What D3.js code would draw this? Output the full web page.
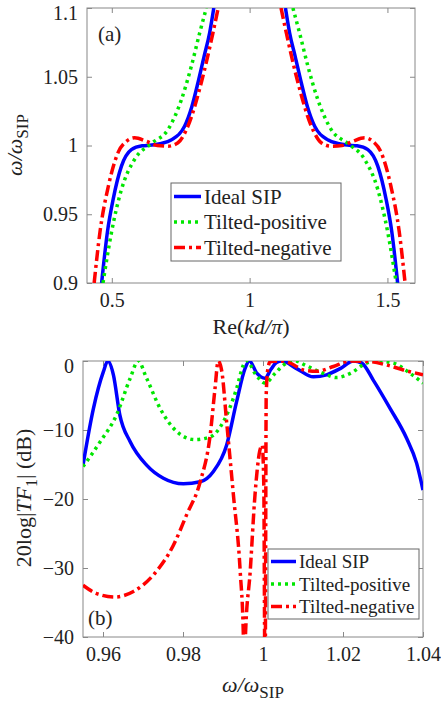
<!DOCTYPE html>
<html>
<head>
<meta charset="utf-8">
<script src="https://cdn.jsdelivr.net/npm/d3@7"></script>
<style>
  body { margin: 0; background: #fff; }
  svg { display: block; }
  svg text { font-family: "Liberation Serif", "Times New Roman", Times, "DejaVu Serif", serif !important; fill: #222; }
</style>
</head>
<body>
<script>
const width = 441;
const height = 708;

// (a) dispersion: [Re(kd/pi), omega/omega_SIP]
const idealLeft = [[0.463,0.900],[0.484,0.937],[0.505,0.961],[0.535,0.985],[0.571,0.997],[0.610,0.9998],[0.645,1.0003],[0.680,1.0015],[0.715,1.004],[0.764,1.014],[0.790,1.028],[0.813,1.046],[0.835,1.065],[0.855,1.082],[0.870,1.100]];
const idealRight = [[1.130,1.100],[1.145,1.082],[1.165,1.065],[1.187,1.046],[1.210,1.028],[1.236,1.014],[1.285,1.004],[1.320,1.0015],[1.355,1.0003],[1.390,0.9998],[1.429,0.997],[1.465,0.985],[1.495,0.961],[1.516,0.937],[1.537,0.900]];
const posLeft = [[0.468,0.900],[0.499,0.937],[0.535,0.968],[0.583,0.990],[0.644,1.0015],[0.704,1.0116],[0.752,1.033],[0.789,1.058],[0.819,1.082],[0.843,1.100]];
const posRight = [[1.157,1.100],[1.181,1.082],[1.211,1.058],[1.248,1.033],[1.296,1.0116],[1.356,1.0015],[1.417,0.990],[1.465,0.968],[1.501,0.937],[1.532,0.900]];
const negLeft = [[0.436,0.900],[0.457,0.937],[0.487,0.970],[0.523,0.995],[0.553,1.003],[0.583,1.0056],[0.626,1.003],[0.665,1.000],[0.704,0.9995],[0.740,1.002],[0.776,1.014],[0.825,1.046],[0.867,1.082],[0.886,1.100]];
const negRight = [[1.114,1.100],[1.133,1.082],[1.175,1.046],[1.224,1.014],[1.260,1.002],[1.296,0.9995],[1.335,1.000],[1.374,1.003],[1.417,1.0056],[1.447,1.003],[1.477,0.995],[1.513,0.970],[1.543,0.937],[1.564,0.900]];

// (b) transfer function: [omega/omega_SIP, dB]
const idealTF = [[0.955,-15.1],[0.9576,-6.9],[0.9601,-1.55],[0.9612,0],[0.9626,-2.0],[0.9642,-7.8],[0.9668,-11.7],[0.9709,-15.1],[0.9751,-17.0],[0.9801,-17.8],[0.9843,-17.5],[0.9876,-16.0],[0.9909,-12.2],[0.9934,-5.9],[0.9955,-1.1],[0.9966,0],[0.9985,-1.8],[1.0005,-2.5],[1.002,-1.2],[1.0034,-0.2],[1.0047,0],[1.0084,-1.1],[1.0126,-2.3],[1.0159,-2.0],[1.0193,-1.1],[1.0226,0],[1.0247,-0.3],[1.0276,-2.8],[1.0318,-6.9],[1.0359,-11.2],[1.0384,-14.8],[1.04,-18.7]];
const posTF = [[0.955,-15.3],[0.9593,-11.7],[0.9634,-7.8],[0.9668,-2.5],[0.9688,0],[0.9709,-2.5],[0.9743,-6.9],[0.9784,-10.2],[0.983,-11.4],[0.9868,-11.0],[0.9901,-8.8],[0.9934,-4.0],[0.9951,-0.6],[0.996,0],[0.998,-1.8],[1.0005,-3.2],[1.003,-1.8],[1.0051,-0.6],[1.008,0],[1.0109,-0.7],[1.0151,-1.8],[1.0184,-2.4],[1.0218,-1.8],[1.0259,-0.3],[1.0284,0],[1.0326,-0.3],[1.0368,-1.8],[1.04,-3.2]];
const negTF = [[0.955,-32.5],[0.9584,-33.7],[0.963,-34.2],[0.9676,-33.4],[0.9726,-31.0],[0.9776,-26.7],[0.9809,-22.3],[0.9843,-17.5],[0.9868,-10.7],[0.988,-4.0],[0.9888,0],[0.9897,-1.5],[0.9909,-8.8],[0.9926,-19.4],[0.9943,-30.5],[0.9951,-40],[0.9953,-50],[0.9956,-40],[0.9968,-30.5],[0.998,-19.4],[0.9992,-13],[0.9998,-12.2],[1.0002,-18],[1.0004,-40],[1.0005,-50],[1.0006,-40],[1.0008,-5],[1.0012,-1.2],[1.0018,-0.1],[1.0043,0],[1.0068,-0.3],[1.0101,-1.3],[1.0134,-1.5],[1.0176,-0.8],[1.0218,0],[1.0268,-0.1],[1.031,-0.6],[1.0351,-1.3],[1.04,-2.0]];

const seriesNames = ["Ideal SIP", "Tilted-positive", "Tilted-negative"];
const seriesColors = ["#0000ff", "#00e600", "#ff0000"];
const seriesDash = [null, "3,4", "11,4,3,4"];

const ticksA_x = [0.5, 1, 1.5];
const ticksA_y = [0.9, 0.95, 1, 1.05, 1.1];
const ticksB_x = [0.96, 0.98, 1, 1.02, 1.04];
const ticksB_y = [-40, -30, -20, -10, 0];

const serif = '"Liberation Serif", "Times New Roman", Times, "DejaVu Serif", serif';

const svg = d3.select("body").append("svg")
    .attr("width", width)
    .attr("height", height)
    .attr("font-family", serif);

// draw one boxed panel with inward ticks on all four sides
function panel(x, y, xt, yt, id) {
    const [x0, x1] = x.range();
    const [y0, y1] = y.range(); // y0 bottom, y1 top
    const g = svg.append("g");
    svg.append("clipPath").attr("id", id)
        .append("rect").attr("x", x0).attr("y", y1).attr("width", x1 - x0).attr("height", y0 - y1);

    g.append("g").attr("transform", `translate(0,${y0})`)
        .call(d3.axisBottom(x).tickValues(xt).tickSize(-5).tickPadding(10).tickFormat(d3.format("")));
    g.append("g").attr("transform", `translate(0,${y1})`)
        .call(d3.axisTop(x).tickValues(xt).tickSize(-5).tickFormat(""));
    const left = g.append("g").attr("transform", `translate(${x0},0)`)
        .call(d3.axisLeft(y).tickValues(yt).tickSize(-5).tickPadding(9).tickFormat(d3.format("")));
    g.append("g").attr("transform", `translate(${x1},0)`)
        .call(d3.axisRight(y).tickValues(yt).tickSize(-5).tickFormat(""));
    g.selectAll("g").attr("font-family", serif);
    g.selectAll(".domain").remove();
    g.selectAll(".tick line").attr("stroke", "#888");
    g.selectAll(".tick text").attr("font-size", 20).attr("fill", "#222");
    // top label sits just inside the figure edge, as in the original
    left.selectAll(".tick text").filter(d => d === yt[yt.length - 1]).attr("dy", "0.55em");
    svg.append("rect").attr("x", x0).attr("y", y1).attr("width", x1 - x0).attr("height", y0 - y1)
        .attr("fill", "none").attr("stroke", "#888").attr("stroke-width", 1);
    return svg.append("g").attr("clip-path", `url(#${id})`);
}

function legend(x, y, w, h, rowH, fs, lineW) {
    const g = svg.append("g");
    g.append("rect").attr("x", x).attr("y", y).attr("width", w).attr("height", h)
        .attr("fill", "#fff").attr("stroke", "#666").attr("stroke-width", 1);
    seriesNames.forEach((name, i) => {
        const cy = y + h / 2 + (i - 1) * rowH;
        g.append("line").attr("x1", x + 3).attr("x2", x + 3 + lineW).attr("y1", cy).attr("y2", cy)
            .attr("stroke", seriesColors[i]).attr("stroke-width", 3.5)
            .attr("stroke-dasharray", seriesDash[i]);
        g.append("text").attr("x", x + lineW + 6).attr("y", cy).attr("dy", "0.35em")
            .attr("font-size", fs).text(name);
    });
}

// ---- (a)
const xA = d3.scaleLinear().domain([0.41, 1.6]).range([87, 415]);
const yA = d3.scaleLinear().domain([0.9, 1.1]).range([283, 8]);
const plotA = panel(xA, yA, ticksA_x, ticksA_y, "clipA");
const lineA = d3.line().x(d => xA(d[0])).y(d => yA(d[1])).curve(d3.curveMonotoneX);

[[idealLeft, idealRight], [posLeft, posRight], [negLeft, negRight]].forEach((pair, i) => {
    pair.forEach(branch => {
        plotA.append("path").datum(branch).attr("d", lineA)
            .attr("fill", "none").attr("stroke", seriesColors[i]).attr("stroke-width", 3.5)
            .attr("stroke-dasharray", seriesDash[i]);
    });
});
svg.append("text").attr("x", 98).attr("y", 41).attr("font-size", 21).text("(a)");
legend(171, 183, 170, 78, 25.5, 21, 27);

svg.append("text").attr("x", 251).attr("y", 334).attr("text-anchor", "middle").attr("font-size", 22)
    .call(t => {
        t.append("tspan").text("Re(");
        t.append("tspan").attr("font-style", "italic").text("kd/π");
        t.append("tspan").text(")");
    });
svg.append("text").attr("transform", "translate(22,145) rotate(-90)").attr("text-anchor", "middle")
    .attr("font-size", 22)
    .call(t => {
        t.append("tspan").attr("font-style", "italic").text("ω/ω");
        t.append("tspan").attr("dy", 6).attr("font-size", 17).text("SIP");
    });

// ---- (b)
const xB = d3.scaleLinear().domain([0.955, 1.04]).range([83, 423]);
const yB = d3.scaleLinear().domain([-40, 0]).range([637, 361]);
const plotB = panel(xB, yB, ticksB_x, ticksB_y, "clipB");
const lineB = d3.line().x(d => xB(d[0])).y(d => yB(d[1])).curve(d3.curveMonotoneX);

[idealTF, posTF, negTF].forEach((s, i) => {
    plotB.append("path").datum(s).attr("d", lineB)
        .attr("fill", "none").attr("stroke", seriesColors[i]).attr("stroke-width", 3.5)
        .attr("stroke-dasharray", seriesDash[i]);
});
svg.append("text").attr("x", 88).attr("y", 625).attr("font-size", 21).text("(b)");
legend(268, 549, 151, 70, 22.5, 19, 25);

svg.append("text").attr("x", 253).attr("y", 692).attr("text-anchor", "middle").attr("font-size", 22)
    .call(t => {
        t.append("tspan").attr("font-style", "italic").text("ω/ω");
        t.append("tspan").attr("dy", 6).attr("font-size", 17).text("SIP");
    });
svg.append("text").attr("transform", "translate(31,498) rotate(-90)").attr("text-anchor", "middle")
    .attr("font-size", 22)
    .call(t => {
        t.append("tspan").text("20log|");
        t.append("tspan").attr("font-style", "italic").text("TF");
        t.append("tspan").attr("dy", 6).attr("font-size", 16).text("1");
        t.append("tspan").attr("dy", -6).text("| (dB)");
    });
</script>
</body>
</html>
